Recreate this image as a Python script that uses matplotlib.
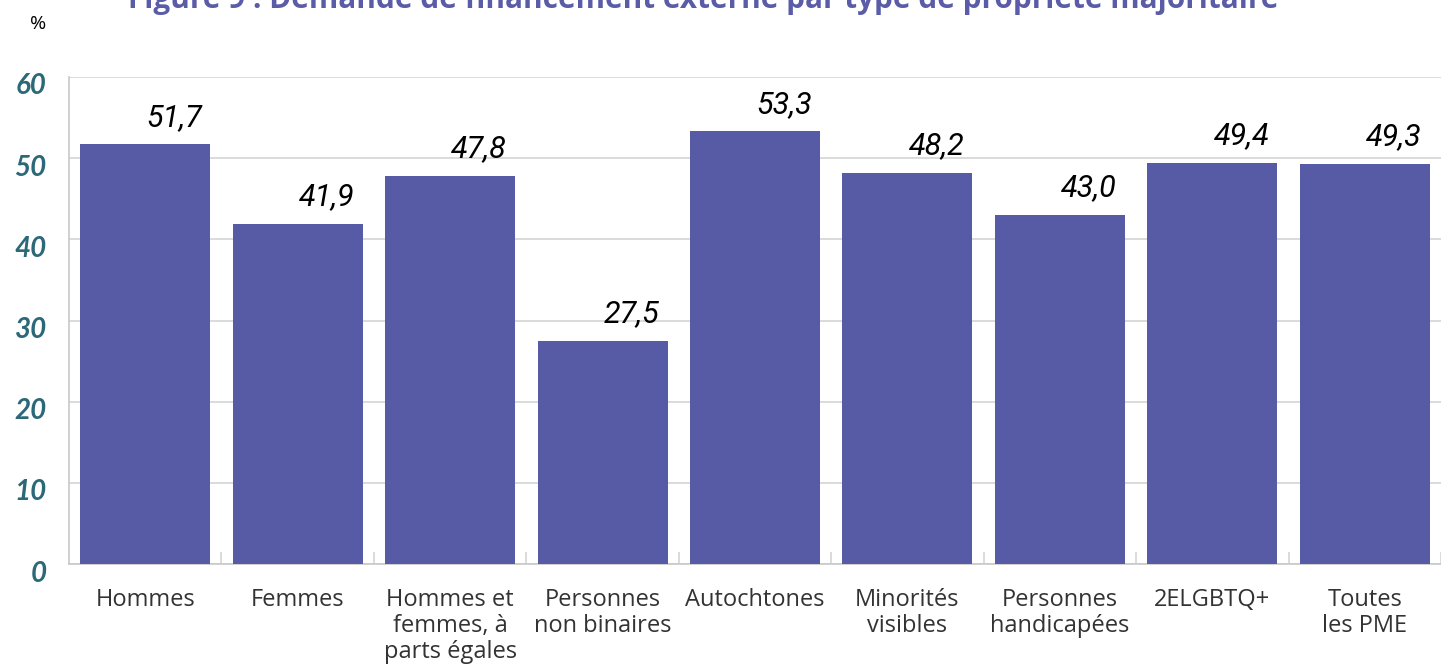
import numpy as np
import matplotlib.pyplot as plt
import matplotlib.transforms as mtransforms

categories = ["Hommes", "Femmes", "Hommes et\nfemmes, à\nparts égales", "Personnes\nnon binaires",
              "Autochtones", "Minorités\nvisibles", "Personnes\nhandicapées", "2ELGBTQ+", "Toutes\nles PME"]
values = [51.7, 41.9, 47.8, 27.5, 53.3, 48.2, 43.0, 49.4, 49.3]
yticks = [0, 10, 20, 30, 40, 50, 60]

bar_color = "#575aa5"
tick_color = "#2b6878"
grid_color = "#d4d4d4"

fig = plt.figure(figsize=(14.41, 6.64), dpi=100)
W, H = 1441, 664
ax = fig.add_axes([69 / W, 1 - 564 / H, (1441 - 69) / W, (564 - 77) / H])

x = np.arange(len(categories))
ax.bar(x, values, width=0.853, color=bar_color, zorder=3)

for xi, v in zip(x, values):
    ax.annotate(f"{v:.1f}".replace(".", ","), (xi, v), xytext=(21, 9), textcoords="offset points",
                ha="center", va="bottom", fontsize=22, style="italic", family="Roboto", color="black")

ax.set_xlim(-0.5, -0.5 + (1441 - 69) / 153.5)
ax.set_ylim(0, 60)
ax.set_yticks(yticks)
ax.set_yticklabels([str(t) for t in yticks], fontsize=20, fontweight="bold", style="italic",
                   color=tick_color, family="Lato")
ax.yaxis.grid(True, color=grid_color, linewidth=1.2, zorder=0)
ax.tick_params(axis="y", length=0, pad=16)
# y labels sit a bit below their gridlines in the reference
shift = mtransforms.ScaledTranslation(0, -7 / 100, fig.dpi_scale_trans)
for lbl in ax.get_yticklabels():
    lbl.set_transform(lbl.get_transform() + shift)

ax.set_xticks(x)
ax.set_xticklabels(categories, fontsize=17, family="Open Sans", color="#333333", linespacing=1.13)
ax.tick_params(axis="x", length=0, pad=17)
ax.set_xticks(np.arange(len(categories)) + 0.5, minor=True)
ax.tick_params(axis="x", which="minor", direction="in", length=9, color=grid_color, width=1.2)

for s in ["top", "right"]:
    ax.spines[s].set_visible(False)
for s in ["left", "bottom"]:
    ax.spines[s].set_color("#c8c8c8")
    ax.spines[s].set_linewidth(1.2)

fig.text(30 / W, 1 - 29 / H, "%", fontsize=14, color="black", family="Open Sans")
fig.text(128 / W, 1 - 8 / H, "Figure 9 : Demande de financement externe par type de propriété majoritaire",
         fontsize=21.4, fontweight="bold", color="#5a5ca8", family="Open Sans", va="baseline")

fig.savefig("out.png", dpi=100)
